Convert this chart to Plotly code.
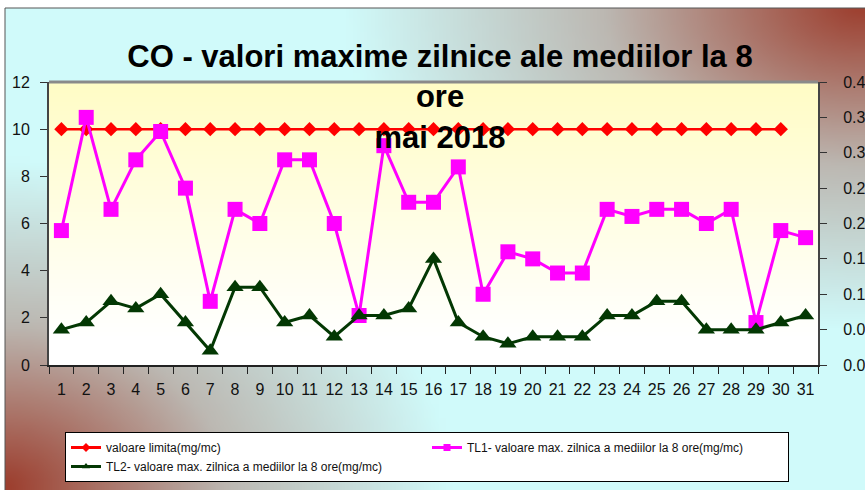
import zlib, struct, base64
import plotly.graph_objects as go

# ---------------- data ----------------
days = [str(d) for d in range(1, 32)]
limit_vals = [10] * 30 + [None]
tl1_vals = [0.19, 0.35, 0.22, 0.29, 0.33, 0.25, 0.09, 0.22, 0.20, 0.29,
            0.29, 0.20, 0.07, 0.31, 0.23, 0.23, 0.28, 0.10, 0.16, 0.15,
            0.13, 0.13, 0.22, 0.21, 0.22, 0.22, 0.20, 0.22, 0.06, 0.19, 0.18]
tl2_vals = [0.05, 0.06, 0.09, 0.08, 0.10, 0.06, 0.02, 0.11, 0.11, 0.06,
            0.07, 0.04, 0.07, 0.07, 0.08, 0.15, 0.06, 0.04, 0.03, 0.04,
            0.04, 0.04, 0.07, 0.07, 0.09, 0.09, 0.05, 0.05, 0.05, 0.06, 0.07]
name_limit = "valoare limita(mg/mc)"
name_tl1 = "TL1- valoare max. zilnica a mediilor la 8 ore(mg/mc)"
name_tl2 = "TL2- valoare max. zilnica a mediilor la 8 ore(mg/mc)"
title_text = "<b>CO - valori maxime zilnice ale mediilor la 8<br>ore<br>mai 2018</b>"

# ---------------- background gradients (decoration) ----------------
W, H = 865, 490
L, R, T, B = 49, 47, 82, 125
PW, PH = W - L - R, H - T - B


def png_uri(w, h, fn):
    raw = bytearray()
    for j in range(h):
        raw.append(0)
        for i in range(w):
            raw += bytes(fn(i / (w - 1), j / (h - 1)))

    def chunk(tag, data):
        c = struct.pack(">I", len(data)) + tag + data
        return c + struct.pack(">I", zlib.crc32(tag + data) & 0xffffffff)
    png = (b"\x89PNG\r\n\x1a\n"
           + chunk(b"IHDR", struct.pack(">IIBBBBB", w, h, 8, 2, 0, 0, 0))
           + chunk(b"IDAT", zlib.compress(bytes(raw), 9))
           + chunk(b"IEND", b""))
    return "data:image/png;base64," + base64.b64encode(png).decode()


def clamp(v):
    return max(0.0, min(1.0, v))


def mix(a, b, t):
    return tuple(int(round(a[k] + (b[k] - a[k]) * t)) for k in range(3))


CYAN = (208, 250, 250)
GRAY = (188, 184, 178)
BROWN = (156, 60, 44)
FX0, FY0, FX1, FY1 = 5, 8, 865, 490


def outer_fn(u, v):
    X = FX0 + u * (FX1 - FX0)
    Y = FY0 + v * (FY1 - FY0)
    w1 = clamp(1 - (((865 - X) / 520) ** 2 + (Y / 330) ** 2) ** 0.5)
    w2 = clamp(1 - ((X / 450) ** 2 + ((490 - Y) / 330) ** 2) ** 0.5)
    w = 1 - (1 - w1) * (1 - w2)
    if w < 0.5:
        return mix(CYAN, GRAY, w * 2)
    return mix(GRAY, BROWN, w * 2 - 1)


def plot_fn(u, v):
    return mix((255, 252, 198), (255, 255, 255), clamp(v * 1.1))


outer_img = png_uri(120, 70, outer_fn)
plot_img = png_uri(2, 64, plot_fn)


def px2paper_x(X):
    return (X - L) / PW


def px2paper_y(Y):
    return (H - B - Y) / PH


# ---------------- figure ----------------
RED, MAG, GRN = "#ff0000", "#ff00ff", "#033803"
fig = go.Figure()
fig.add_trace(go.Scatter(x=days, y=limit_vals, name=name_limit, mode="lines+markers",
                         showlegend=False,
                         line=dict(color=RED, width=2.5),
                         marker=dict(symbol="diamond", size=11, color=RED)))
fig.add_trace(go.Scatter(x=days, y=tl1_vals, name=name_tl1, mode="lines+markers", yaxis="y2",
                         showlegend=False,
                         line=dict(color=MAG, width=3),
                         marker=dict(symbol="square", size=15, color=MAG)))
fig.add_trace(go.Scatter(x=days, y=tl2_vals, name=name_tl2, mode="lines+markers", yaxis="y2",
                         showlegend=False,
                         line=dict(color=GRN, width=3),
                         marker=dict(symbol="triangle-up", size=15, color=GRN)))
# legend entries with small sample markers (as in the reference legend)
for nm, col, sym in [(name_limit, RED, "diamond"), (name_tl1, MAG, "square"),
                     (name_tl2, GRN, "triangle-up")]:
    fig.add_trace(go.Scatter(x=[days[0]], y=[None], name=nm, mode="lines+markers",
                             line=dict(color=col, width=3),
                             marker=dict(symbol=sym, size=7, color=col)))

tickfont = dict(family="Liberation Sans, Arial", size=16, color="#111111")

fig.update_layout(
    width=W, height=H,
    margin=dict(l=L, r=R, t=T, b=B, pad=0, autoexpand=False),
    paper_bgcolor="white",
    plot_bgcolor="rgba(0,0,0,0)",
    font=dict(family="Liberation Sans, Arial", color="black"),
    title=dict(text=title_text, x=440 / W, xref="container", xanchor="center",
               y=1 - 67 / H, yref="container", yanchor="top",
               font=dict(family="Liberation Sans, Arial", size=31, color="black")),
    xaxis=dict(type="category", categoryorder="array", categoryarray=days,
               range=[-0.5, len(days) - 0.5], autorange=False,
               tickson="boundaries", ticks="outside", ticklen=7,
               tickangle=0, automargin=False,
               tickcolor="#222", showline=True, linecolor="#222", linewidth=2,
               showgrid=False, tickfont=tickfont, ticklabelstandoff=9, zeroline=False),
    yaxis=dict(range=[0, 12], dtick=2, ticks="outside", ticklen=7, tickcolor="#333",
               automargin=False,
               showline=True, linecolor="#444", linewidth=2, showgrid=False,
               zeroline=False, tickfont=tickfont, ticklabelstandoff=7),
    yaxis2=dict(range=[0, 0.4], dtick=0.05, tickformat=".2f", overlaying="y", side="right",
                automargin=False,
                ticks="outside", ticklen=7, tickcolor="#333", showline=True,
                linecolor="#444", linewidth=2, showgrid=False, zeroline=False,
                tickfont=tickfont, ticklabelstandoff=13),
    legend=dict(orientation="h", xref="container", yref="container",
                x=65 / W, y=1 - 432 / H, xanchor="left", yanchor="top",
                bgcolor="white", bordercolor="black", borderwidth=1,
                entrywidth=316, entrywidthmode="pixels",
                font=dict(family="Liberation Sans, Arial", size=12, color="#111")),
    showlegend=True,
    images=[
        dict(source=outer_img, xref="paper", yref="paper",
             x=px2paper_x(FX0), y=px2paper_y(FY0),
             sizex=(FX1 - FX0) / PW, sizey=(FY1 - FY0) / PH,
             sizing="stretch", layer="below", xanchor="left", yanchor="top"),
        dict(source=plot_img, xref="paper", yref="paper", x=0, y=1, sizex=1, sizey=1,
             sizing="stretch", layer="below", xanchor="left", yanchor="top"),
    ],
    shapes=[
        dict(type="rect", xref="paper", yref="paper",
             x0=px2paper_x(FX0), x1=px2paper_x(FX1 + 2),
             y0=px2paper_y(FY1 + 2), y1=px2paper_y(FY0),
             line=dict(color="#555555", width=1), layer="below"),
        dict(type="line", xref="paper", yref="paper", x0=0, x1=1, y0=1, y1=1,
             line=dict(color="#8a8a8a", width=3), layer="above"),
    ],
)

fig.write_html("out.html", config={"displayModeBar": False},
               post_script="document.body.style.margin='0';document.body.style.overflow='hidden';")
